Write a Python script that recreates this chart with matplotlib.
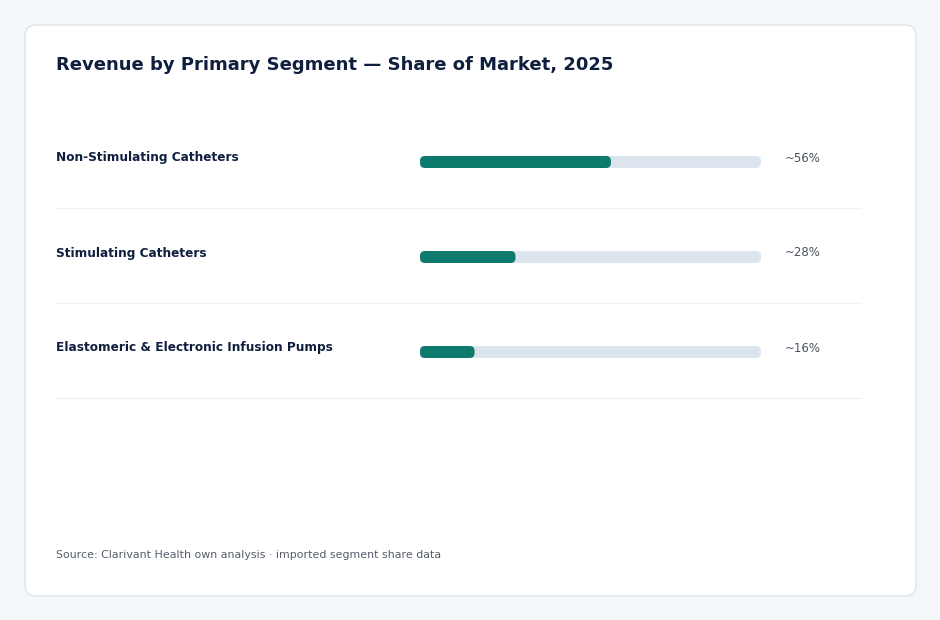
import matplotlib
matplotlib.use("Agg")
import matplotlib.pyplot as plt
from matplotlib.patches import FancyBboxPatch
from matplotlib.transforms import blended_transform_factory

categories = ["Non-Stimulating Catheters", "Stimulating Catheters",
              "Elastomeric & Electronic Infusion Pumps"]
shares = [56, 28, 16]
value_labels = ["~56%", "~28%", "~16%"]
title = "Revenue by Primary Segment \u2014 Share of Market, 2025"
source = "Source: Clarivant Health own analysis \u00b7 imported segment share data"

W, H = 940, 620
fig = plt.figure(figsize=(W / 100, H / 100), dpi=100)
fig.patch.set_facecolor("#f4f7fa")

# background axes in pixel coordinates for the card
bg = fig.add_axes([0, 0, 1, 1])
bg.set_xlim(0, W)
bg.set_ylim(H, 0)
bg.axis("off")
card = FancyBboxPatch((25, 25), 891, 571,
                      boxstyle="round,pad=0,rounding_size=11",
                      facecolor="white", edgecolor="#dfe4ea", linewidth=1.0)
bg.add_patch(card)
bg.text(56, 65, title, fontsize=13, fontweight="bold", color="#0f1f3d",
        va="center", ha="left")
bg.text(56, 555, source, fontsize=7.9, color="#555d6b", va="center", ha="left")

# bar axes
x0, x1 = 420, 761
ytop, ybot = 114.5, 399.5
ax = fig.add_axes([x0 / W, (H - ybot) / H, (x1 - x0) / W, (ybot - ytop) / H])
ax.set_xlim(0, 100)
n = len(categories)
ax.set_ylim(n - 0.5, -0.5)
ax.axis("off")
ax.patch.set_alpha(0)

px_per_x = (x1 - x0) / 100.0
px_per_y = (ybot - ytop) / n
bar_h = 12 / px_per_y
rad_x = 5 / px_per_x
aspect = (5 / px_per_y) / rad_x

for i, (cat, v, lab) in enumerate(zip(categories, shares, value_labels)):
    track = FancyBboxPatch((0, i - bar_h / 2), 100, bar_h,
                           boxstyle=f"round,pad=0,rounding_size={rad_x}",
                           mutation_aspect=aspect,
                           facecolor="#dce4ee", edgecolor="none", clip_on=False)
    ax.add_patch(track)
    fill = FancyBboxPatch((0, i - bar_h / 2), v, bar_h,
                          boxstyle=f"round,pad=0,rounding_size={rad_x}",
                          mutation_aspect=aspect,
                          facecolor="#0e7a6e", edgecolor="none", clip_on=False)
    ax.add_patch(fill)

trans = blended_transform_factory(bg.transData, ax.transData)
for i, (cat, lab) in enumerate(zip(categories, value_labels)):
    off = 4 / px_per_y
    bg.text(56, i - off, cat, transform=trans, fontsize=8.7, fontweight="bold",
            color="#0f1f3d", va="center", ha="left")
    bg.text(785, i - off, lab, transform=trans, fontsize=8.5,
            color="#4a5260", va="center", ha="left")
    sep = i + 46 / px_per_y
    bg.plot([56, 861], [sep, sep], transform=trans, color="#eef1f5", lw=1.0)

fig.savefig("out.png", dpi=100, facecolor=fig.get_facecolor())
